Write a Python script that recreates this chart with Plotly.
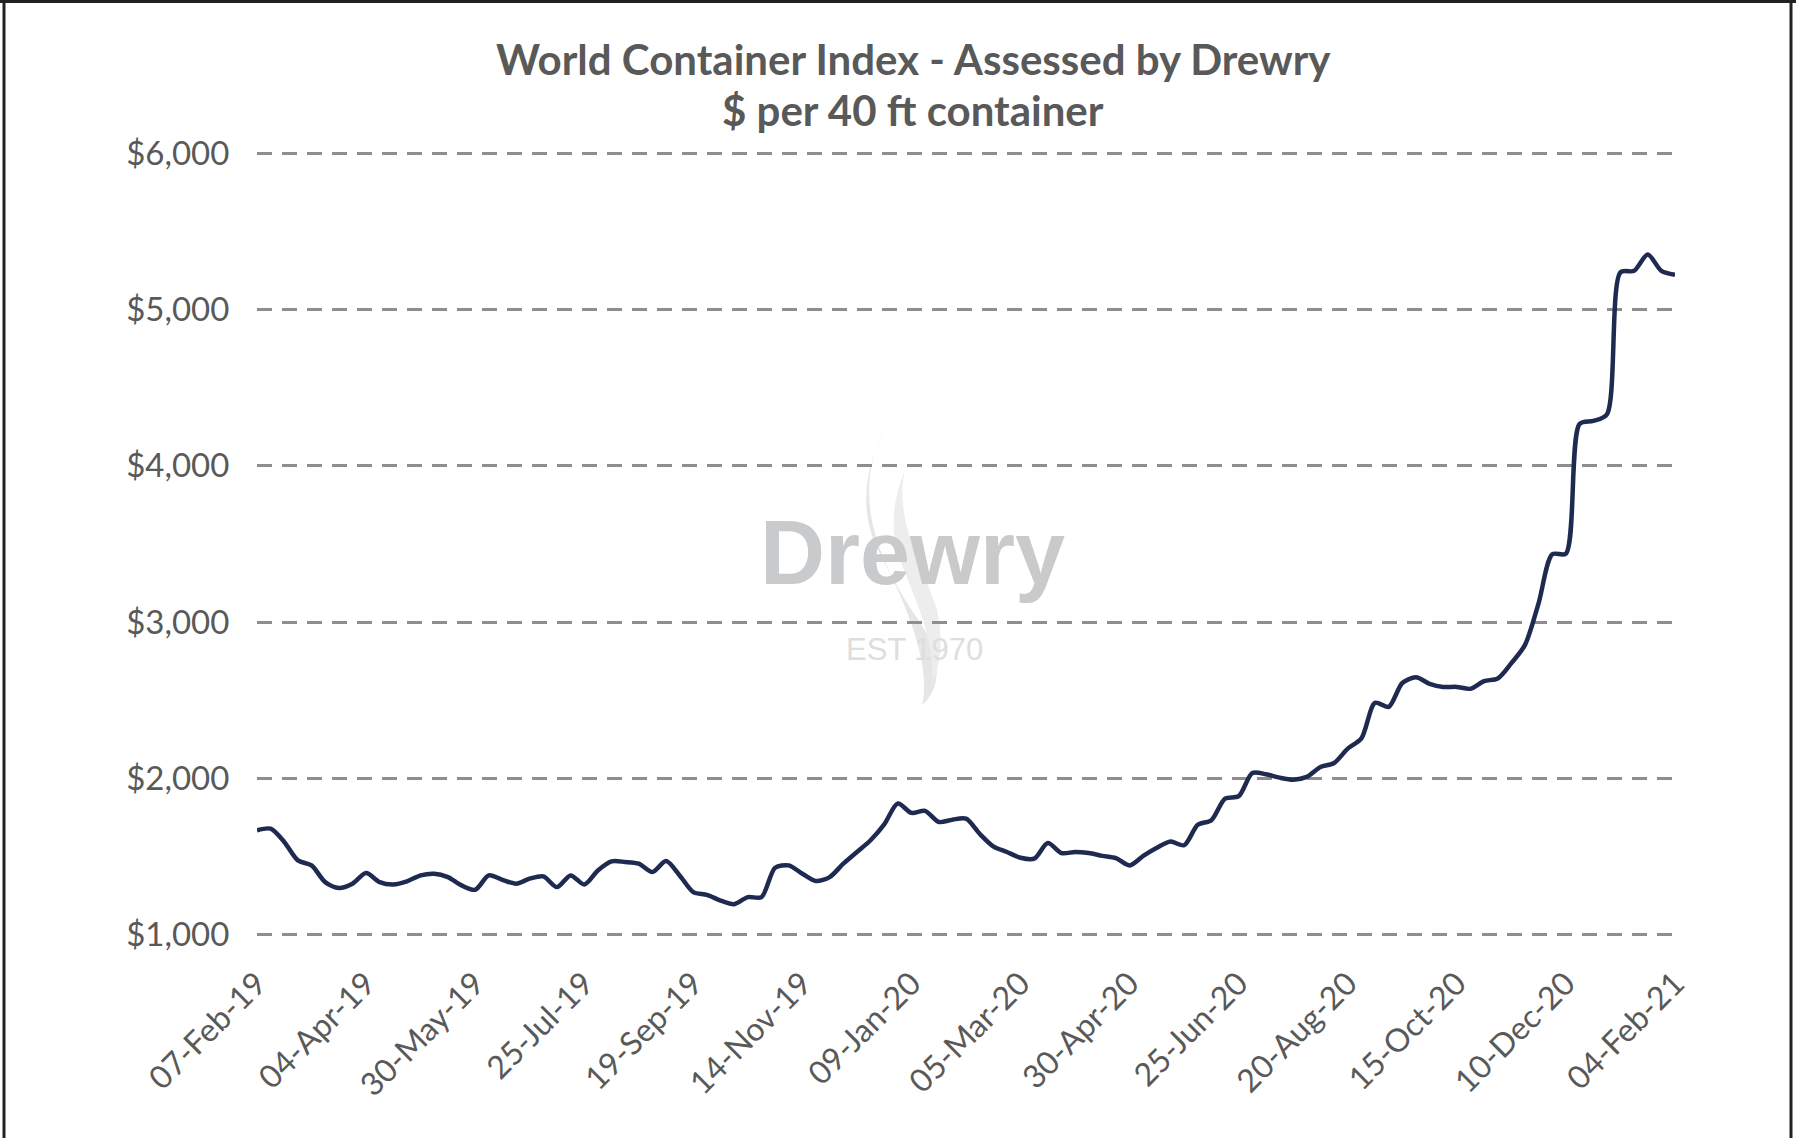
import pandas as pd
import plotly.graph_objects as go

# ---- data ----
start_date = "2019-02-07"
wci_values = [
    1667, 1677, 1592, 1474, 1442, 1335, 1297, 1325, 1393, 1335,
    1320, 1340, 1378, 1389, 1367, 1314, 1286, 1378, 1350, 1325,
    1357, 1372, 1303, 1378, 1320, 1410, 1468, 1464, 1453, 1399,
    1470, 1378, 1271, 1253, 1217, 1194, 1239, 1239, 1427, 1442,
    1389, 1342, 1367, 1453, 1528, 1603, 1705, 1838, 1778, 1791,
    1720, 1735, 1741, 1645, 1564, 1528, 1491, 1485, 1585, 1521,
    1528, 1521, 1503, 1488, 1442, 1503, 1555, 1595, 1571, 1702,
    1731, 1870, 1885, 2034, 2026, 2004, 1991, 2009, 2072, 2098,
    2190, 2255, 2483, 2457, 2610, 2646, 2605, 2585, 2585, 2573,
    2622, 2639, 2737, 2854, 3122, 3434, 3439, 4268, 4288, 4329,
    5239, 5249, 5354, 5249, 5224,
]
week_dates = pd.date_range(start_date, periods=len(wci_values), freq="7D")

tick_labels = [
    "07-Feb-19", "04-Apr-19", "30-May-19", "25-Jul-19", "19-Sep-19",
    "14-Nov-19", "09-Jan-20", "05-Mar-20", "30-Apr-20", "25-Jun-20",
    "20-Aug-20", "15-Oct-20", "10-Dec-20", "04-Feb-21",
]
tick_dates = pd.to_datetime(tick_labels, format="%d-%b-%y")
y_ticks = [1000, 2000, 3000, 4000, 5000, 6000]
y_tick_labels = ["$1,000", "$2,000", "$3,000", "$4,000", "$5,000", "$6,000"]

title_line1 = "World Container Index - Assessed by Drewry"
title_line2 = "$ per 40 ft container"

# ---- styling ----
W, H = 1796, 1138
L, R, T, B = 257, 121, 152, 202
FONT = "Lato, Liberation Sans, Arial, sans-serif"
TXT = "#595959"

fig = go.Figure()
fig.add_trace(go.Scatter(
    x=week_dates, y=wci_values, mode="lines",
    line=dict(color="#1f2a50", width=4.5, shape="spline", smoothing=0.8),
    hoverinfo="x+y", showlegend=False,
))

pw = W - L - R
ph = H - T - B
def px(x):
    return (x - L) / pw
def py(y):
    return (H - B - y) / ph

annotations = [
    dict(text="<b>" + title_line1 + "</b>", x=px(913), y=py(59), xref="paper", yref="paper",
         showarrow=False, font=dict(family=FONT, size=42, color=TXT), xanchor="center", yanchor="middle"),
    dict(text="<b>" + title_line2 + "</b>", x=px(913), y=py(110), xref="paper", yref="paper",
         showarrow=False, font=dict(family=FONT, size=42, color=TXT), xanchor="center", yanchor="middle"),
    # watermark
    dict(text="<b>Drewry</b>", x=px(912), y=py(553), xref="paper", yref="paper",
         showarrow=False, font=dict(family="Liberation Sans, Arial, sans-serif", size=90, color="#c9cacc"),
         xanchor="center", yanchor="middle"),
    dict(text="EST 1970", x=px(914), y=py(649), xref="paper", yref="paper",
         showarrow=False, font=dict(family="Liberation Sans, Arial, sans-serif", size=31, color="#dedede"),
         xanchor="center", yanchor="middle"),
]

def flame(points):
    p = f"M {px(points[0][0])},{py(points[0][1])}"
    for i in range(1, len(points), 3):
        a, b, c = points[i], points[i + 1], points[i + 2]
        p += f" C {px(a[0])},{py(a[1])} {px(b[0])},{py(b[1])} {px(c[0])},{py(c[1])}"
    return p + " Z"

shapes = [
    # watermark flame strands
    dict(type="path", xref="paper", yref="paper", layer="below",
         path=flame([(888, 425), (848, 490), (878, 560), (915, 615), (948, 660), (938, 692), (922, 705),
                     (932, 665), (905, 600), (878, 550), (856, 505), (868, 460), (888, 425)]),
         fillcolor="#e6e6e6", line=dict(width=0)),
    dict(type="path", xref="paper", yref="paper", layer="below",
         path=flame([(905, 470), (893, 520), (925, 570), (937, 610), (944, 640), (940, 668), (932, 684),
                     (936, 640), (915, 600), (900, 560), (888, 525), (895, 495), (905, 470)]),
         fillcolor="#ededed", line=dict(width=0)),
    # frame lines
    dict(type="line", xref="paper", yref="paper", x0=px(0), x1=px(W), y0=py(1.5), y1=py(1.5),
         line=dict(color="#222222", width=3)),
    dict(type="line", xref="paper", yref="paper", x0=px(4), x1=px(4), y0=py(0), y1=py(H),
         line=dict(color="#222222", width=3)),
    dict(type="line", xref="paper", yref="paper", x0=px(W - 5), x1=px(W - 5), y0=py(0), y1=py(H),
         line=dict(color="#222222", width=3)),
]

fig.update_layout(
    width=W, height=H,
    margin=dict(l=L, r=R, t=T, b=B, pad=0),
    paper_bgcolor="white", plot_bgcolor="white",
    annotations=annotations, shapes=shapes,
    showlegend=False,
    font=dict(family=FONT, color=TXT),
)
fig.update_xaxes(
    type="date", automargin=False,
    range=[week_dates[0], week_dates[-1]],
    tickmode="array", tickvals=tick_dates, ticktext=tick_labels,
    tickangle=-45, tickfont=dict(family=FONT, size=32, color=TXT),
    ticks="outside", ticklen=15, tickcolor="rgba(0,0,0,0)",
    showgrid=False, zeroline=False, showline=False,
)
fig.update_yaxes(
    automargin=False,
    range=[990, 6010],
    tickmode="array", tickvals=y_ticks, ticktext=y_tick_labels,
    tickfont=dict(family=FONT, size=33, color=TXT),
    ticks="outside", ticklen=20, tickcolor="rgba(0,0,0,0)",
    showgrid=True, gridcolor="#8e8e8e", gridwidth=3, griddash="15px,10px",
    zeroline=False, showline=False,
)

fig.write_html(
    "out.html",
    config={"displayModeBar": False},
    post_script="document.body.style.margin='0';document.body.style.overflow='hidden';",
)
